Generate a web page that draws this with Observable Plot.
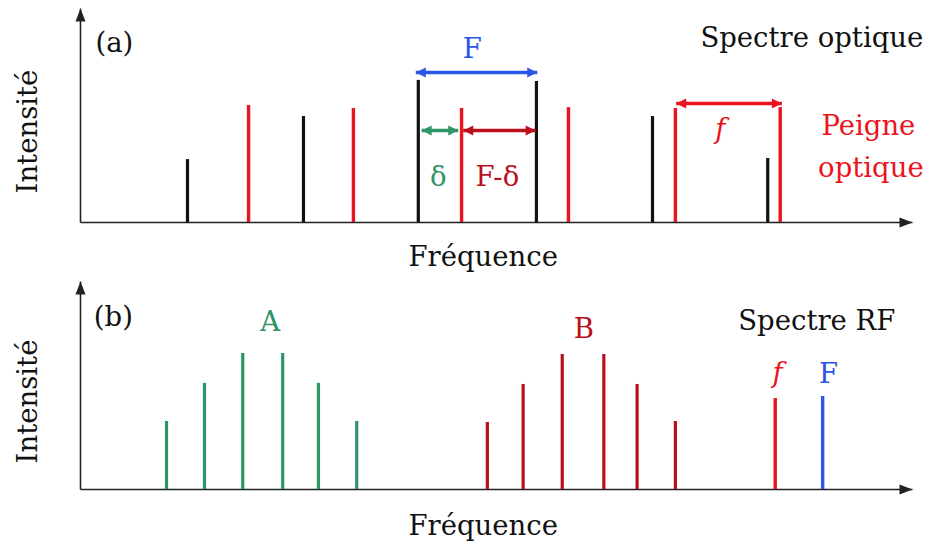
<!DOCTYPE html>
<html><head><meta charset="utf-8">
<script src="https://cdn.jsdelivr.net/npm/d3@7"></script>
<script src="https://cdn.jsdelivr.net/npm/@observablehq/plot@0.6"></script>
<style>
body{margin:0;background:#fff}
#chart svg{display:block;background:#fff}
#chart svg text{font-family:"DejaVu Serif",serif !important;}
</style>
</head><body><div id="chart"></div>
<script>
// ---------- data (arbitrary units: frequency 0-100, intensity 0-100) ----------
// Panel (a): optical spectrum
const signalFreq = [12.86, 26.8, 40.6, 54.8, 68.75, 82.6];
const signalInt  = [29.4, 49.5, 66.4, 65.9, 49.5, 29.9];
const combFreq   = [20.2, 32.8, 45.8, 58.65, 71.5, 84.1];
const combInt    = [54.7, 53.3, 53.3, 53.7, 53.3, 53.7];
// interval arrows (a)
const intervalNames = ["F", "δ", "F-δ", "f"];
const intervalFrom  = [40.3, 41.0, 46.0, 71.6];
const intervalTo    = [54.9, 45.4, 54.7, 84.3];
const intervalLevel = [70.1, 43.0, 43.0, 55.6];

// Panel (b): RF spectrum
const beatAFreq = [10.34, 14.9, 19.5, 24.3, 28.6, 33.2];
const beatAInt  = [32.7, 51, 65.4, 65.4, 51, 32.7];
const beatBFreq = [48.9, 53.2, 57.9, 62.9, 66.9, 71.5];
const beatBInt  = [32.2, 50.5, 64.9, 64.9, 50.5, 32.7];
const rfNames = ["f", "F"];
const rfFreq  = [83.5, 89.2];
const rfInt   = [43.75, 44.7];

// text labels
const xLabel = "Fréquence";
const yLabel = "Intensité";

const C = {black: "#111", red: "#ea1420", dark: "#bb0f1c", green: "#2f9567", blue: "#2b56e6", axis: "#222"};
const FONT = '"DejaVu Serif", serif';
const FS = 27.5;

function axes() {
  const base = [{x1: 0, y1: 0, x2: 100, y2: 0}, {x1: 0, y1: 0, x2: 0, y2: 100}];
  return [
    Plot.link(base, {x1: "x1", y1: "y1", x2: "x2", y2: "y2", stroke: C.axis, strokeWidth: 1.6}),
    Plot.vector([{x: 100, y: 0, r: 90}, {x: 0, y: 100, r: 0}],
      {x: "x", y: "y", rotate: "r", shape: "spike", length: 13, r: 5, anchor: "end",
       fill: C.axis, stroke: "none", fillOpacity: 1})
  ];
}

function doubleArrows(rows) {
  return [
    Plot.link(rows, {x1: "x1", x2: "x2", y1: "y", y2: "y", stroke: "color", strokeWidth: 3.5}),
    Plot.vector(rows, {x: "x2", y: "y", rotate: 90, shape: "spike", length: 10, r: 5, anchor: "end",
      fill: "color", stroke: "none", fillOpacity: 1}),
    Plot.vector(rows, {x: "x1", y: "y", rotate: -90, shape: "spike", length: 10, r: 5, anchor: "end",
      fill: "color", stroke: "none", fillOpacity: 1})
  ];
}

function txt(rows, opts = {}) {
  return Plot.text(rows, {x: "x", y: "y", text: "t", fill: "c", fontSize: FS, fontFamily: FONT,
    textAnchor: "middle", lineAnchor: "middle", ...opts});
}

// ---------- panel (a) ----------
const signal = signalFreq.map((x, i) => ({x, v: signalInt[i]}));
const comb = combFreq.map((x, i) => ({x, v: combInt[i]}));
const intervalColors = [C.blue, C.green, C.dark, C.red];
const intervals = intervalNames.map((n, i) => ({n, x1: intervalFrom[i], x2: intervalTo[i], y: intervalLevel[i], color: intervalColors[i]}));

const plotA = Plot.plot({
  width: 930, height: 273,
  marginLeft: 80, marginRight: 18, marginTop: 8, marginBottom: 51,
  x: {domain: [0, 100], axis: null},
  y: {domain: [0, 100], axis: null},
  style: {overflow: "visible", fontFamily: FONT},
  marks: [
    ...axes(),
    Plot.ruleX(signal, {x: "x", y1: 0, y2: "v", stroke: C.black, strokeWidth: 3.2}),
    Plot.ruleX(comb, {x: "x", y1: 0, y2: "v", stroke: C.red, strokeWidth: 3.4}),
    ...doubleArrows(intervals),
    txt([{x: 1.8, y: 83.6, t: "(a)", c: C.black}], {textAnchor: "start"}),
    txt([{x: 101.3, y: 85.9, t: "Spectre optique", c: C.black}], {textAnchor: "end"}),
    txt([
      {x: 47.1, y: 80.8, t: intervalNames[0], c: C.blue},
      {x: 43.0, y: 21.0, t: intervalNames[1], c: C.green},
      {x: 50.1, y: 21.0, t: intervalNames[2], c: C.dark},
      {x: 94.7, y: 44.8, t: "Peigne", c: C.red},
      {x: 95.0, y: 25.2, t: "optique", c: C.red},
      {x: 48.4, y: -16, t: xLabel, c: C.black}
    ]),
    txt([{x: 76.9, y: 43.4, t: intervalNames[3], c: C.red}], {fontStyle: "italic"}),
    txt([{x: -6.25, y: 42.5, t: yLabel, c: C.black}], {rotate: -90})
  ]
});

// ---------- panel (b) ----------
const beatA = beatAFreq.map((x, i) => ({x, v: beatAInt[i]}));
const beatB = beatBFreq.map((x, i) => ({x, v: beatBInt[i]}));
const rfColors = [C.red, C.blue];
const rf = rfNames.map((n, i) => ({x: rfFreq[i], v: rfInt[i], c: rfColors[i]}));

const plotB = Plot.plot({
  width: 930, height: 273,
  marginLeft: 80, marginRight: 18, marginTop: 8, marginBottom: 57,
  x: {domain: [0, 100], axis: null},
  y: {domain: [0, 100], axis: null},
  style: {overflow: "visible", fontFamily: FONT},
  marks: [
    ...axes(),
    Plot.ruleX(beatA, {x: "x", y1: 0, y2: "v", stroke: C.green, strokeWidth: 3.2}),
    Plot.ruleX(beatB, {x: "x", y1: 0, y2: "v", stroke: C.dark, strokeWidth: 3.2}),
    Plot.ruleX(rf, {x: "x", y1: 0, y2: "v", stroke: "c", strokeWidth: 3.4}),
    txt([{x: 1.6, y: 82.7, t: "(b)", c: C.black}], {textAnchor: "start"}),
    txt([
      {x: 22.8, y: 80.25, t: "A", c: C.green},
      {x: 60.5, y: 76.9, t: "B", c: C.dark},
      {x: 88.5, y: 80.7, t: "Spectre RF", c: C.black},
      {x: 89.9, y: 55.25, t: rfNames[1], c: C.blue},
      {x: 48.4, y: -17.8, t: xLabel, c: C.black}
    ]),
    txt([{x: 83.8, y: 55.7, t: rfNames[0], c: C.red}], {fontStyle: "italic"}),
    txt([{x: -6.25, y: 42.3, t: yLabel, c: C.black}], {rotate: -90})
  ]
});

const root = document.getElementById("chart");
root.appendChild(plotA);
root.appendChild(plotB);
</script>
</body></html>
